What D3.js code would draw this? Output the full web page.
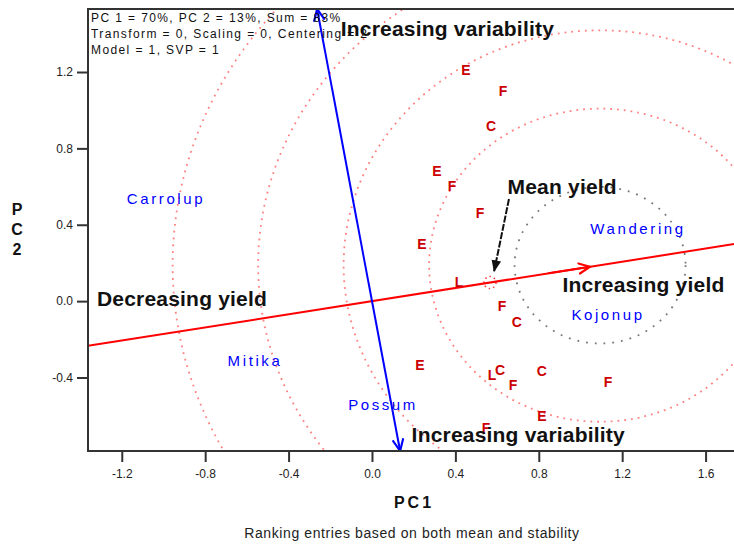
<!DOCTYPE html>
<html>
<head>
<meta charset="utf-8">
<script src="https://cdn.jsdelivr.net/npm/d3@7"></script>
<style>
body { margin: 0; background: #fff; }
svg { display: block; font-family: Arial, "Liberation Sans", sans-serif; }
</style>
</head>
<body>
<div id="chart"></div>
<script>
// GGE biplot - ranking entries on mean and stability

var xTicks = [-1.2, -0.8, -0.4, 0.0, 0.4, 0.8, 1.2, 1.6];
var yTicks = [-0.4, 0.0, 0.4, 0.8, 1.2];

// entries (red codes)
var entryCodes = ["E", "F", "C", "E", "F", "F", "E", "L", "F", "C", "E", "L", "C", "F", "C", "F", "E", "F"];
var entryPC1 = [0.451, 0.628, 0.571, 0.312, 0.384, 0.518, 0.240, 0.417, 0.624, 0.695, 0.230, 0.576, 0.614, 0.676, 0.815, 1.132, 0.815, 0.547];
var entryPC2 = [1.211, 1.100, 0.917, 0.681, 0.603, 0.461, 0.299, 0.100, -0.026, -0.110, -0.335, -0.387, -0.361, -0.439, -0.366, -0.424, -0.602, -0.665];

// environments (blue names)
var envNames = ["Carrolup", "Wandering", "Kojonup", "Mitika", "Possum"];
var envPC1 = [-0.988, 1.276, 1.132, -0.561, 0.053];
var envPC2 = [0.535, 0.378, -0.073, -0.314, -0.544];

var aeaSlope = 0.172;            // average environment axis
var meanEnvPC1 = 0.566;          // small circle = mean environment
var idealPC1 = 1.094;            // centre of the rings
var ringRadii = [0.41, 0.82, 1.23, 1.64, 2.05];
var yieldArrowPC1 = 1.046;
var meanLabelFrom = [0.657, 0.535];

var infoLines = ["PC 1 = 70%, PC 2 = 13%, Sum = 83%",
	"Transform = 0, Scaling = 0, Centering = 2",
	"Model = 1, SVP = 1"];

var width = 734, height = 546;
var pLeft = 88, pTop = 9, pBottom = 451, pRight = 760;

var x = d3.scaleLinear().domain([-1.362, 1.861]).range([pLeft, pRight]);
var y = d3.scaleLinear().domain([-0.785, 1.53]).range([pBottom, pTop]);

var fmt = function(d) { return d3.format(".1f")(d).replace("\u2212", "-"); };

function aea(px) { return [px, px * aeaSlope]; }

var svg = d3.select("#chart").append("svg").attr("width", width).attr("height", height);
var defs = svg.append("defs");

defs.append("clipPath").attr("id", "plotclip")
	.append("rect").attr("x", pLeft).attr("y", pTop).attr("width", pRight - pLeft).attr("height", pBottom - pTop);

function chevron(id, color) {
	defs.append("marker")
		.attr("id", id)
		.attr("viewBox", "0 0 12 12")
		.attr("refX", 11).attr("refY", 6)
		.attr("markerUnits", "userSpaceOnUse")
		.attr("markerWidth", 13).attr("markerHeight", 13)
		.attr("orient", "auto-start-reverse")
	  .append("path")
		.attr("d", "M0,1 L11,6 L0,11")
		.attr("fill", "none")
		.attr("stroke", color)
		.attr("stroke-width", 2);
}
chevron("arrBlue", "#0000ff");
chevron("arrRed", "#ff0000");

defs.append("marker")
	.attr("id", "arrBlack")
	.attr("viewBox", "0 0 10 10")
	.attr("refX", 9).attr("refY", 5)
	.attr("markerUnits", "userSpaceOnUse")
	.attr("markerWidth", 12).attr("markerHeight", 14)
	.attr("orient", "auto")
  .append("path")
	.attr("d", "M0,1 L10,5 L0,9 Z")
	.attr("fill", "#111");

var plot = svg.append("g").attr("clip-path", "url(#plotclip)");

// concentric rings round the ideal entry
var cx = x(idealPC1), cy = y(idealPC1 * aeaSlope);
plot.selectAll(".ring")
	.data(ringRadii)
	.enter().append("ellipse")
	  .attr("class", "ring")
	  .attr("cx", cx)
	  .attr("cy", cy)
	  .attr("rx", function(d) { return x(d) - x(0); })
	  .attr("ry", function(d) { return y(0) - y(d); })
	  .attr("fill", "none")
	  .attr("stroke", function(d, i) { return i == 0 ? "#777" : "#ff8080"; })
	  .attr("stroke-width", 1.8)
	  .attr("stroke-dasharray", function(d, i) { return i == 0 ? "1.8,7" : "1.8,5"; });

// mean environment circle
plot.append("circle")
	.attr("cx", x(meanEnvPC1))
	.attr("cy", y(meanEnvPC1 * aeaSlope))
	.attr("r", 6)
	.attr("fill", "none")
	.attr("stroke", "#ff4040")
	.attr("stroke-width", 1.5)
	.attr("stroke-dasharray", "1.5,3");

// average environment axis (red) and its ordinate (blue)
var line = d3.line()
	.x(function(d) { return x(d[0]); })
	.y(function(d) { return y(d[1]); });

plot.append("path")
	.attr("d", line([aea(x.domain()[0]), aea(x.domain()[1])]))
	.attr("stroke", "#ff0000")
	.attr("stroke-width", 2)
	.attr("fill", "none");

plot.append("path")
	.attr("d", line([aea(yieldArrowPC1 - 0.2), aea(yieldArrowPC1)]))
	.attr("stroke", "#ff0000")
	.attr("stroke-width", 2)
	.attr("fill", "none")
	.attr("marker-end", "url(#arrRed)");

var yTop = y.domain()[1], yBot = y.domain()[0];
svg.append("path")
	.attr("d", line([[-aeaSlope * yTop, yTop], [-aeaSlope * yBot, yBot]]))
	.attr("stroke", "#0000ff")
	.attr("stroke-width", 2)
	.attr("fill", "none")
	.attr("marker-start", "url(#arrBlue)")
	.attr("marker-end", "url(#arrBlue)");

// mean yield pointer
svg.append("path")
	.attr("d", line([meanLabelFrom, [meanEnvPC1 + 0.02, meanEnvPC1 * aeaSlope + 0.06]]))
	.attr("stroke", "#111")
	.attr("stroke-width", 2)
	.attr("stroke-dasharray", "7,1.5")
	.attr("fill", "none")
	.attr("marker-end", "url(#arrBlack)");

// entries
plot.selectAll(".entry")
	.data(entryCodes)
	.enter().append("text")
	  .attr("class", "entry")
	  .attr("x", function(d, i) { return x(entryPC1[i]); })
	  .attr("y", function(d, i) { return y(entryPC2[i]); })
	  .attr("dy", "0.36em")
	  .attr("text-anchor", "middle")
	  .attr("font-size", 14)
	  .attr("font-weight", "bold")
	  .attr("fill", "#cc0000")
	  .text(function(d) { return d; });

// environments
plot.selectAll(".env")
	.data(envNames)
	.enter().append("text")
	  .attr("class", "env")
	  .attr("x", function(d, i) { return x(envPC1[i]); })
	  .attr("y", function(d, i) { return y(envPC2[i]); })
	  .attr("dy", "0.36em")
	  .attr("text-anchor", "middle")
	  .attr("font-size", 15)
	  .attr("letter-spacing", 2.6)
	  .attr("fill", "#0000ff")
	  .text(function(d) { return d; });

// frame
svg.append("path")
	.attr("d", "M" + pRight + "," + pTop + "H" + pLeft + "V" + pBottom + "H" + pRight)
	.attr("fill", "none")
	.attr("stroke", "#333")
	.attr("stroke-width", 2);

// axes
var yAxis = svg.append("g")
	.attr("transform", "translate(" + pLeft + ",0)")
	.call(d3.axisLeft(y).tickValues(yTicks).tickFormat(fmt).tickSize(11).tickPadding(4));
var xAxis = svg.append("g")
	.attr("transform", "translate(0," + pBottom + ")")
	.call(d3.axisBottom(x).tickValues(xTicks).tickFormat(fmt).tickSize(11).tickPadding(7));
[xAxis, yAxis].forEach(function(a) {
	a.select(".domain").remove();
	a.selectAll(".tick line").attr("stroke", "#333").attr("stroke-width", 2);
	a.selectAll(".tick text").attr("font-size", 12).attr("fill", "#222")
		.attr("font-family", "Arial, 'Liberation Sans', sans-serif");
});

// info box text
svg.selectAll(".info")
	.data(infoLines)
	.enter().append("text")
	  .attr("class", "info")
	  .attr("x", pLeft + 3)
	  .attr("y", function(d, i) { return 22 + i * 16; })
	  .attr("font-size", 12)
	  .attr("letter-spacing", 1.4)
	  .attr("fill", "#111")
	  .text(function(d) { return d; });

// annotations
function note(txt, px, py, anchor) {
	svg.append("text")
		.attr("x", px).attr("y", py)
		.attr("dy", "0.36em")
		.attr("text-anchor", anchor || "start")
		.attr("font-size", 21)
		.attr("font-weight", "bold")
		.attr("letter-spacing", 0.2)
		.attr("fill", "#111")
		.text(txt);
}
note("Increasing variability", x(-0.15), y(1.43));
note("Increasing variability", x(0.19), y(-0.7));
note("Mean yield", x(0.65), y(0.6));
note("Increasing yield", x(0.914), y(0.085));
note("Decreasing yield", x(-1.319), y(0.014));

// axis titles
svg.selectAll(".ytitle")
	.data(["P", "C", "2"])
	.enter().append("text")
	  .attr("x", 17)
	  .attr("y", function(d, i) { return 209 + i * 20; })
	  .attr("dy", "0.36em")
	  .attr("text-anchor", "middle")
	  .attr("font-size", 16)
	  .attr("font-weight", "bold")
	  .attr("fill", "#111")
	  .text(function(d) { return d; });

svg.append("text")
	.attr("x", 414).attr("y", 502)
	.attr("dy", "0.36em")
	.attr("text-anchor", "middle")
	.attr("font-size", 16)
	.attr("font-weight", "bold")
	.attr("letter-spacing", 3)
	.attr("fill", "#111")
	.text("PC1");

svg.append("text")
	.attr("x", 412).attr("y", 533)
	.attr("dy", "0.36em")
	.attr("text-anchor", "middle")
	.attr("font-size", 14)
	.attr("letter-spacing", 0.6)
	.attr("fill", "#222")
	.text("Ranking entries based on both mean and stability");
</script>
</body>
</html>
